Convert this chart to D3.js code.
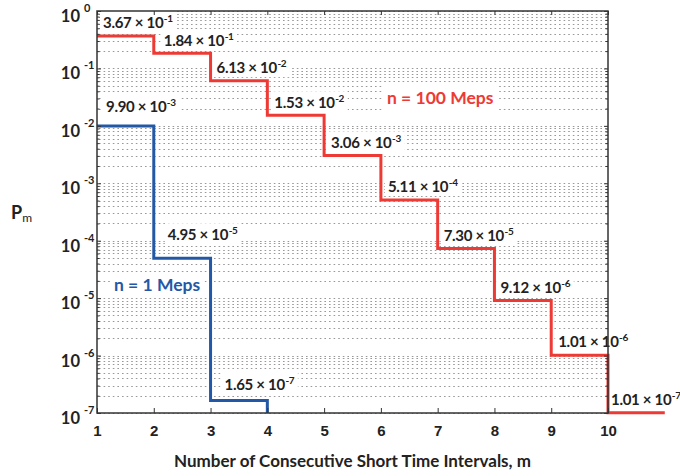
<!DOCTYPE html>
<meta charset="utf-8">
<style type="text/css">
  body { margin: 0; background: #fff; font-family: Lato, "Open Sans", sans-serif; }
  text { font-weight: 700; fill: #222; }
  .grid line { stroke: #999; stroke-width: 1; stroke-dasharray: 1.6,3; }
  .axis path, .axis line { stroke: #333; }
</style>
<body></body>
<script src="https://cdnjs.cloudflare.com/ajax/libs/d3/7.8.5/d3.min.js"></script>
<script>
  // data
  var intervals = [1, 2, 3, 4, 5, 6, 7, 8, 9, 10];
  var p100 = [3.67e-1, 1.84e-1, 6.13e-2, 1.53e-2, 3.06e-3, 5.11e-4, 7.30e-5, 9.12e-6, 1.01e-6, 1.01e-7];
  var p1 = [9.90e-3, 4.95e-5, 1.65e-7];
  var xTicks = [1, 2, 3, 4, 5, 6, 7, 8, 9, 10];
  var yDecades = [1e0, 1e-1, 1e-2, 1e-3, 1e-4, 1e-5, 1e-6, 1e-7];

  // label nudges in px (layout only)
  var redNudge = [[6, -13], [10, -12], [6, -12.5], [7, -12], [7, -12], [7, -13], [6, -12.5], [6, -12], [7, -13], [3, -13]];
  var blueNudge = [[9, -19], [14, -23], [14, -16]];

  var W = 680, H = 476;
  var pLeft = 97, pRight = 608, pTop = 11, pBottom = 413;
  var red = "#ee3a35", blue = "#2358a6";

  var x = d3.scaleLinear().domain([1, 10]).range([pLeft, pRight]);
  var y = d3.scaleLog().domain([1e-7, 1]).range([pBottom, pTop]);

  var svg = d3.select("body").append("svg")
    .attr("width", W).attr("height", H);

  // dotted grid at every log tick
  svg.append("g").attr("class", "grid")
    .selectAll("line")
    .data(y.ticks())
    .enter().append("line")
    .attr("x1", pLeft + 2).attr("x2", pRight)
    .attr("y1", function(d) { return Math.round(y(d)) + 0.5; })
    .attr("y2", function(d) { return Math.round(y(d)) + 0.5; });

  var masks = svg.append("g");
  var lines = svg.append("g");
  var labels = svg.append("g");

  // step lines
  var line = d3.line()
    .x(function(d) { return x(d[0]); })
    .y(function(d) { return y(d[1]); })
    .curve(d3.curveStepAfter);

  var redPts = intervals.map(function(m, i) { return [m, p100[i]]; });
  redPts.push([intervals[intervals.length - 1] + 1, p100[p100.length - 1]]);

  var bluePts = p1.map(function(v, i) { return [intervals[i], v]; });
  bluePts.push([intervals[p1.length], y.domain()[0]]);

  lines.append("path").attr("d", line(redPts))
    .attr("fill", "none").attr("stroke", red).attr("stroke-width", 3);
  lines.append("path").attr("d", line(bluePts))
    .attr("fill", "none").attr("stroke", blue).attr("stroke-width", 3);

  function sci(v) {
    var parts = v.toExponential(2).split("e");
    return { m: parts[0], e: String(+parts[1]) };
  }

  function addLabel(m, v, nudge) {
    var s = sci(v);
    var t = labels.append("text")
      .attr("x", x(m) + nudge[0])
      .attr("y", y(v) + nudge[1] + 5)
      .style("font-size", "15px")
      .style("letter-spacing", "-0.3px");
    t.append("tspan").text(s.m + " \u00d7 10");
    t.append("tspan").attr("dx", 0.5).attr("dy", -6).style("font-size", "10px").text(s.e);
    var b = t.node().getBBox();
    masks.append("rect")
      .attr("x", b.x - 3).attr("y", b.y - 1)
      .attr("width", b.width + 6).attr("height", b.height + 2)
      .attr("fill", "#fff");
  }

  p100.forEach(function(v, i) { addLabel(intervals[i], v, redNudge[i]); });
  p1.forEach(function(v, i) { addLabel(intervals[i], v, blueNudge[i]); });

  function seriesLabel(txt, px, py, col) {
    var t = labels.append("text")
      .attr("x", px).attr("y", py)
      .style("font-size", "17.5px").style("fill", col).text(txt);
    var b = t.node().getBBox();
    masks.append("rect")
      .attr("x", b.x - 4).attr("y", b.y - 2)
      .attr("width", b.width + 8).attr("height", b.height + 4)
      .attr("fill", "#fff");
  }
  seriesLabel("n = 100 Meps", 387, 104, red);
  seriesLabel("n = 1 Meps", 114, 291, blue);

  // axes
  svg.append("g").attr("class", "axis")
    .attr("transform", "translate(0," + pBottom + ")")
    .call(d3.axisBottom(x).tickValues(xTicks).tickSizeInner(-5).tickSizeOuter(0).tickPadding(12))
    .call(function(g) {
      g.select(".domain").remove();
      g.selectAll("text").style("font-size", "15px").attr("fill", "#222");
    });

  svg.append("g").attr("class", "axis")
    .attr("transform", "translate(0," + pTop + ")")
    .call(d3.axisTop(x).tickValues(xTicks).tickSizeInner(-4).tickSizeOuter(0).tickFormat(""))
    .call(function(g) { g.select(".domain").remove(); });

  [["left", pLeft], ["right", pRight]].forEach(function(a) {
    var gen = a[0] === "left" ? d3.axisLeft : d3.axisRight;
    var g = svg.append("g").attr("class", "axis").attr("transform", "translate(" + a[1] + ",0)");
    g.append("g")
      .call(gen(y).tickValues(yDecades).tickSizeInner(-4).tickSizeOuter(0).tickFormat(""))
      .call(function(s) { s.select(".domain").remove(); });
    g.append("g")
      .call(gen(y).tickValues(y.ticks().filter(function(d) { return yDecades.indexOf(d) < 0; }))
        .tickSizeInner(-2.5).tickSizeOuter(0).tickFormat(""))
      .call(function(s) { s.select(".domain").remove(); });
  });

  svg.append("rect")
    .attr("x", pLeft).attr("y", pTop)
    .attr("width", pRight - pLeft).attr("height", pBottom - pTop)
    .attr("fill", "none").attr("stroke", "#333").attr("stroke-width", 1.5);

  // y tick labels 10^k
  var yl = svg.append("g");
  yDecades.forEach(function(d) {
    var k = Math.round(Math.log10(d));
    yl.append("text").attr("x", 80).attr("y", y(d) + 11)
      .attr("text-anchor", "end").style("font-size", "16.5px").text("10");
    yl.append("text").attr("x", 84).attr("y", y(d) + 1)
      .style("font-size", "11px").text(String(k));
  });

  // axis titles
  svg.append("text")
    .attr("x", (pLeft + pRight) / 2).attr("y", 467)
    .attr("text-anchor", "middle").style("font-size", "17px")
    .text("Number of Consecutive Short Time Intervals, m");

  var pt = svg.append("text").attr("x", 11).attr("y", 219).style("font-size", "18px");
  pt.append("tspan").text("P");
  pt.append("tspan").attr("dy", 3).style("font-size", "12px").style("font-weight", 400).text("m");
</script>
